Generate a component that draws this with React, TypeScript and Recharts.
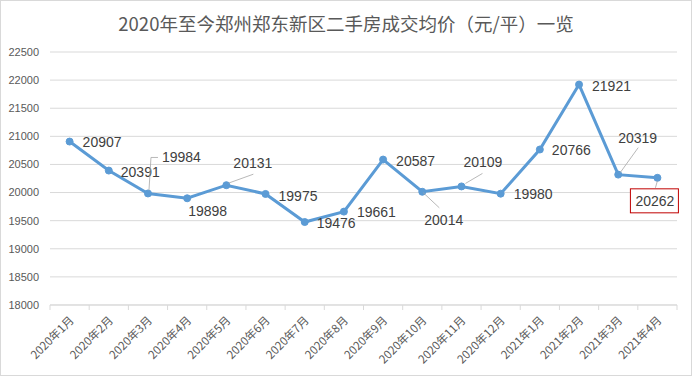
import { LineChart, Line, XAxis, YAxis, CartesianGrid, LabelList } from 'recharts'

const months = [
  '2020年1月', '2020年2月', '2020年3月', '2020年4月', '2020年5月', '2020年6月', '2020年7月', '2020年8月',
  '2020年9月', '2020年10月', '2020年11月', '2020年12月', '2021年1月', '2021年2月', '2021年3月', '2021年4月',
]
const prices = [20907, 20391, 19984, 19898, 20131, 19975, 19476, 19661, 20587, 20014, 20109, 19980, 20766, 21921, 20319, 20262]
const yTicks = [18000, 18500, 19000, 19500, 20000, 20500, 21000, 21500, 22000, 22500]

const data = months.map((m, i) => ({ month: m, price: prices[i] }))

// label placement relative to the point: text start dx, text centre dy, optional leader polyline
const labelPos: { dx: number; dy: number; leader?: number[][]; box?: boolean }[] = [
  { dx: 13, dy: 0 },
  { dx: 12, dy: 1 },
  { dx: 14, dy: -36, leader: [[1, -3], [3, -36], [10, -36]] },
  { dx: 1, dy: 13 },
  { dx: 7, dy: -22, leader: [[2, -2], [27, -11]] },
  { dx: 13, dy: 2 },
  { dx: 12, dy: 1 },
  { dx: 13, dy: 0 },
  { dx: 13, dy: 1 },
  { dx: 2, dy: 28, leader: [[1, 1], [17, 16]] },
  { dx: 2, dy: -24, leader: [[4, -3], [21, -13]] },
  { dx: 13, dy: 0 },
  { dx: 12, dy: 1 },
  { dx: 13, dy: 1 },
  { dx: 0, dy: -37, leader: [[2, -2], [20, -27]] },
  { dx: -22, dy: 23, leader: [[0, 3], [-2, 10]], box: true },
]

const BAND = 627 / 16
const FONT = '"Noto Sans CJK SC", "Liberation Sans", sans-serif'

function DataLabel(props: any) {
  const { x, y, index, value } = props
  const p = labelPos[index]
  if (!p) return null
  const tx = x + p.dx
  const ty = y + p.dy
  return (
    <g>
      {p.leader && (
        <polyline points={p.leader.map(([a, b]) => `${x + a},${y + b}`).join(' ')} fill="none" stroke="#a6a6a6" strokeWidth={0.8} />
      )}
      {p.box && <rect x={tx - 5} y={ty - 12} width={48} height={24} fill="#fff" stroke="#c00000" strokeWidth={1} />}
      <text x={tx} y={ty + 5} fontSize={14} fill="#404040" fontFamily='"Liberation Sans", sans-serif'>{value}</text>
    </g>
  )
}

function MonthTick(props: any) {
  const { x, y, payload, index } = props
  return (
    <g>
      <line x1={x - BAND / 2} y1={y} x2={x - BAND / 2} y2={y + 5} stroke="#d9d9d9" />
      {index === months.length - 1 && <line x1={x + BAND / 2} y1={y} x2={x + BAND / 2} y2={y + 5} stroke="#d9d9d9" />}
      <text x={x + 5} y={y + 16} textAnchor="end" transform={`rotate(-45 ${x + 5} ${y + 16})`} fontSize={11.5} fill="#595959" fontFamily={FONT}>
        {payload.value}
      </text>
    </g>
  )
}

export default function App() {
  return (
    <div style={{ position: 'absolute', left: 0, top: 0, width: 692, height: 376, background: '#fff', border: '1px solid #d9d9d9', boxSizing: 'border-box' }}>
      <div style={{ position: 'absolute', top: 9, left: 0, width: 690, textAlign: 'center', fontSize: 18.5, lineHeight: '26px', color: '#595959', fontFamily: FONT }}>
        2020年至今郑州郑东新区二手房成交均价（元/平）一览
      </div>
      <LineChart width={690} height={374} data={data} margin={{ top: 51, right: 14, left: -1, bottom: 10 }} style={{ position: 'absolute', left: 0, top: 0 }}>
        <CartesianGrid vertical={false} stroke="#d9d9d9" />
        <XAxis dataKey="month" height={60} tickSize={0} tickMargin={0} tick={<MonthTick />} tickLine={false} axisLine={{ stroke: '#d9d9d9' }} interval={0}
          padding={{ left: BAND / 2, right: BAND / 2 }} />
        <YAxis width={50} domain={[18000, 22500]} ticks={yTicks} tickSize={0} tickMargin={11} axisLine={false} tickLine={false}
          tick={{ fontSize: 11, fill: '#595959', fontFamily: '"Liberation Sans", sans-serif' }} />
        <Line dataKey="price" stroke="#5b9bd5" strokeWidth={3} dot={{ r: 3.5, fill: '#5b9bd5', stroke: '#5b9bd5', strokeWidth: 1 }} isAnimationActive={false}>
          <LabelList dataKey="price" content={<DataLabel />} />
        </Line>
      </LineChart>
    </div>
  )
}
